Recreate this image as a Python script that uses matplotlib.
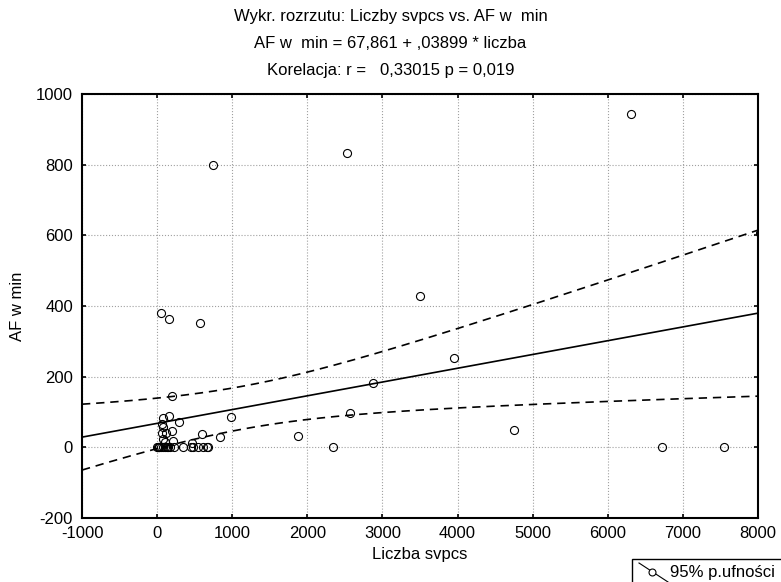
import numpy as np
import matplotlib
matplotlib.use('Agg')
import matplotlib.pyplot as plt
from matplotlib.lines import Line2D
from matplotlib.patches import Rectangle

plt.rcParams['font.family'] = ['Liberation Sans', 'DejaVu Sans']
plt.rcParams['axes.unicode_minus'] = False

# Liczba svpcs vs AF w min
svpcs = [750, 2525, 6310, 3500, 3955, 4745, 6720, 7550, 8030,
         55, 160, 575, 200, 2880, 2570, 2348, 1877, 985, 843, 595, 462,
         76, 164, 290, 84, 60, 116, 196, 84, 111, 217, 70,
         10, 31, 84, 129, 173, 226, 342, 449, 484, 550, 617, 660, 683,
         0, 20, 50, 100, 140]
af_min = [800, 832, 943, 427, 252, 50, 0, 0, 606,
          380, 363, 352, 146, 182, 96, 2, 33, 85, 29, 37, 11,
          83, 88, 73, 58, 40, 40, 47, 25, 16, 17, 66,
          0, 0, 0, 0, 0, 0, 0, 0, 0, 0, 0, 0, 0,
          0, 0, 0, 0, 0]

intercept = 67.861
slope = 0.03899
t_crit = 2.0106  # t(0.975, df~48)

x_ticks = [-1000, 0, 1000, 2000, 3000, 4000, 5000, 6000, 7000, 8000]
y_ticks = [-200, 0, 200, 400, 600, 800, 1000]
FS = 12


def conf_band(x, y, xs):
    x = np.asarray(x, float)
    y = np.asarray(y, float)
    # only points inside the plotted x range
    keep = x <= 8000
    x, y = x[keep], y[keep]
    n = len(x)
    resid = y - (intercept + slope * x)
    s = np.sqrt(np.sum(resid ** 2) / (n - 2))
    sxx = np.sum((x - x.mean()) ** 2)
    h = t_crit * s * np.sqrt(1.0 / n + (xs - x.mean()) ** 2 / sxx)
    fit = intercept + slope * xs
    return fit, fit - h, fit + h


def main():
    W, H = 781, 582
    fig = plt.figure(figsize=(W / 100, H / 100), dpi=100)
    ax = fig.add_axes([82 / W, 1 - 518 / H, (758 - 82) / W, (518 - 94) / H])

    xs = np.linspace(-1000, 8000, 200)
    fit, lo, hi = conf_band(svpcs, af_min, xs)

    ax.plot(svpcs, af_min, 'o', mfc='none', mec='black', ms=5.8, mew=0.8, zorder=3)
    ax.plot(xs, fit, color='black', lw=1.2, zorder=2)
    ax.plot(xs, lo, color='black', lw=1.2, ls=(0, (5, 3.5)), zorder=2)
    ax.plot(xs, hi, color='black', lw=1.2, ls=(0, (5, 3.5)), zorder=2)

    ax.set_xlim(-1000, 8000)
    ax.set_ylim(-200, 1000)
    ax.set_xticks(x_ticks)
    ax.set_yticks(y_ticks)
    ax.grid(True, color='#a0a0a0', ls=':', lw=0.8)
    ax.tick_params(direction='in', length=3, width=1.2, top=True, right=True,
                   labelsize=FS)
    ax.tick_params(axis='x', pad=6)
    ax.tick_params(axis='y', pad=6.5)
    for sp in ax.spines.values():
        sp.set_linewidth(1.5)

    ax.set_xlabel('Liczba svpcs', fontsize=FS, labelpad=4)
    ax.set_ylabel('AF w min', fontsize=FS)
    ax.yaxis.set_label_coords(25 / W, 1 - 306 / H, transform=fig.transFigure)

    fig.text(0.5, 1 - 17 / H, 'Wykr. rozrzutu: Liczby svpcs vs. AF w  min',
             ha='center', va='center', fontsize=FS)
    fig.text(0.5, 1 - 44 / H, 'AF w  min = 67,861 + ,03899 * liczba',
             ha='center', va='center', fontsize=FS)
    fig.text(0.5, 1 - 70 / H, 'Korelacja: r =   0,33015 p = 0,019',
             ha='center', va='center', fontsize=FS)

    # legend box, cut off by the bottom edge like in the original
    fig.patches.append(Rectangle((632 / W, 1 - 600 / H), 170 / W, 41 / H,
                                 transform=fig.transFigure, fill=False,
                                 edgecolor='black', lw=1.0))
    fig.lines.append(Line2D([639 / W, 668 / W], [1 - 563 / H, 1 - 582 / H],
                            transform=fig.transFigure, color='black', lw=0.8))
    fig.lines.append(Line2D([652 / W], [1 - 572 / H], transform=fig.transFigure,
                            marker='o', mfc='white', mec='black', ms=5, mew=0.8))
    fig.text(670 / W, 1 - 572 / H, '95% p.ufności', ha='left', va='center',
             fontsize=FS)

    fig.savefig('out.png', dpi=100)


if __name__ == '__main__':
    main()
